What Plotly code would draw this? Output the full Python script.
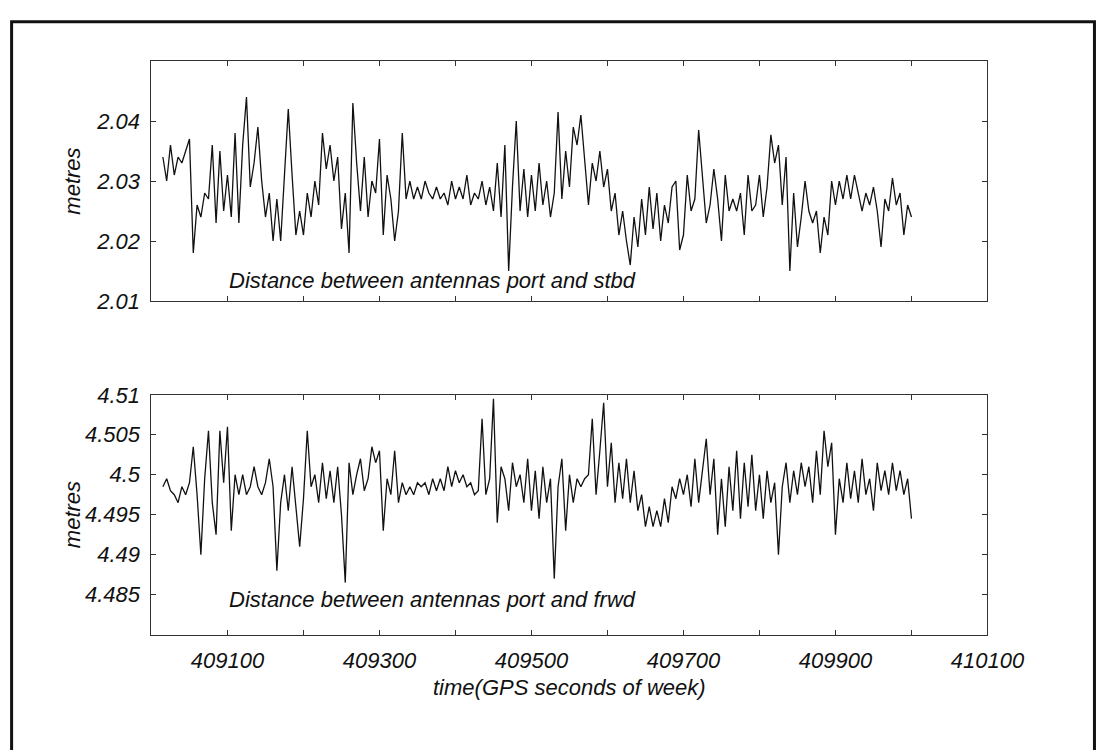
import plotly.graph_objects as go

# time axis (GPS seconds of week), 5 s steps
t_start = 409015
t_step = 5

stbd_values = [
    2.034, 2.030, 2.036, 2.031, 2.034, 2.033, 2.035, 2.037, 2.018, 2.026,
    2.024, 2.028, 2.027, 2.036, 2.023, 2.035, 2.025, 2.031, 2.024, 2.038,
    2.023, 2.036, 2.044, 2.029, 2.033, 2.039, 2.030, 2.024, 2.028, 2.020,
    2.027, 2.020, 2.031, 2.042, 2.031, 2.021, 2.025, 2.021, 2.028, 2.024,
    2.030, 2.026, 2.038, 2.032, 2.036, 2.030, 2.034, 2.022, 2.028, 2.018,
    2.043, 2.033, 2.025, 2.034, 2.024, 2.030, 2.028, 2.037, 2.021, 2.031,
    2.027, 2.020, 2.025, 2.038, 2.027, 2.030, 2.027, 2.029, 2.027, 2.030,
    2.028, 2.027, 2.029, 2.027, 2.028, 2.026, 2.030, 2.027, 2.029, 2.027,
    2.031, 2.026, 2.028, 2.027, 2.030, 2.026, 2.029, 2.025, 2.033, 2.024,
    2.036, 2.015, 2.029, 2.040, 2.025, 2.032, 2.024, 2.031, 2.025, 2.033,
    2.026, 2.030, 2.024, 2.028, 2.0415, 2.027, 2.035, 2.029, 2.039, 2.036,
    2.041, 2.034, 2.026, 2.033, 2.030, 2.035, 2.029, 2.032, 2.025, 2.028,
    2.021, 2.025, 2.020, 2.016, 2.024, 2.019, 2.027, 2.021, 2.029, 2.022,
    2.028, 2.020, 2.026, 2.023, 2.029, 2.030, 2.0185, 2.021, 2.031, 2.025,
    2.027, 2.0385, 2.031, 2.023, 2.026, 2.032, 2.027, 2.020, 2.031, 2.025,
    2.027, 2.025, 2.028, 2.021, 2.031, 2.025, 2.026, 2.031, 2.024, 2.029,
    2.0377, 2.033, 2.036, 2.026, 2.034, 2.015, 2.028, 2.019, 2.024, 2.030,
    2.025, 2.023, 2.025, 2.018, 2.024, 2.021, 2.030, 2.026, 2.030, 2.027,
    2.031, 2.027, 2.031, 2.028, 2.025, 2.028, 2.026, 2.029, 2.025, 2.019,
    2.027, 2.025, 2.0305, 2.026, 2.028, 2.021, 2.026, 2.024,
]

frwd_values = [
    4.4985, 4.4995, 4.498, 4.4975, 4.4965, 4.4985, 4.4975, 4.499, 4.5035, 4.4975,
    4.490, 4.4995, 4.5055, 4.4965, 4.4925, 4.5055, 4.499, 4.506, 4.493, 4.500,
    4.4975, 4.500, 4.4975, 4.4985, 4.501, 4.4985, 4.4975, 4.499, 4.502, 4.4985,
    4.488, 4.4965, 4.500, 4.4955, 4.501, 4.4955, 4.491, 4.497, 4.5055, 4.4985,
    4.500, 4.4965, 4.5015, 4.497, 4.5005, 4.4965, 4.501, 4.495, 4.4865, 4.5015,
    4.4975, 4.500, 4.502, 4.498, 4.4995, 4.5035, 4.5015, 4.503, 4.493, 4.4995,
    4.4975, 4.503, 4.4965, 4.499, 4.4975, 4.4985, 4.4975, 4.499, 4.4985, 4.499,
    4.4975, 4.4995, 4.498, 4.4995, 4.498, 4.501, 4.4985, 4.5005, 4.499, 4.500,
    4.4985, 4.499, 4.4975, 4.498, 4.507, 4.4975, 4.4995, 4.5095, 4.494, 4.501,
    4.4995, 4.4955, 4.5015, 4.4985, 4.500, 4.4965, 4.502, 4.4955, 4.5005, 4.4945,
    4.501, 4.4965, 4.4995, 4.487, 4.4985, 4.502, 4.493, 4.500, 4.4965, 4.4995,
    4.4985, 4.4995, 4.500, 4.507, 4.4975, 4.503, 4.509, 4.4985, 4.504, 4.4965,
    4.5015, 4.497, 4.502, 4.4965, 4.5005, 4.4955, 4.4975, 4.4935, 4.496, 4.4935,
    4.4955, 4.4935, 4.497, 4.494, 4.4985, 4.497, 4.4995, 4.4975, 4.500, 4.496,
    4.502, 4.4965, 4.5005, 4.5045, 4.4975, 4.502, 4.4925, 4.4995, 4.4935, 4.501,
    4.4955, 4.503, 4.4945, 4.5015, 4.496, 4.5025, 4.4955, 4.500, 4.4945, 4.5005,
    4.4965, 4.499, 4.490, 4.4985, 4.5015, 4.4965, 4.5005, 4.4975, 4.5015, 4.4985,
    4.501, 4.4965, 4.503, 4.4975, 4.5055, 4.501, 4.504, 4.4925, 4.4995, 4.4965,
    4.5015, 4.497, 4.5005, 4.4965, 4.502, 4.4975, 4.4995, 4.4955, 4.5015, 4.498,
    4.5005, 4.4975, 4.5015, 4.498, 4.5005, 4.4975, 4.4995, 4.4945,
]

x_tick_vals = [409000, 409100, 409200, 409300, 409400, 409500, 409600,
               409700, 409800, 409900, 410000, 410100]
x_tick_text = ["", "409100", "", "409300", "", "409500", "",
               "409700", "", "409900", "", "410100"]
top_tick_vals = [2.01, 2.02, 2.03, 2.04, 2.05]
top_tick_text = ["2.01", "2.02", "2.03", "2.04", ""]
bot_tick_vals = [4.48, 4.485, 4.49, 4.495, 4.5, 4.505, 4.51]
bot_tick_text = ["", "4.485", "4.49", "4.495", "4.5", "4.505", "4.51"]

t_stbd = [t_start + t_step * i for i in range(len(stbd_values))]
t_frwd = [t_start + t_step * i for i in range(len(frwd_values))]

W, H = 1110, 750
FONT = "Liberation Sans, Arial, sans-serif"
fsz = 22

fig = go.Figure()
fig.add_trace(go.Scatter(x=t_stbd, y=stbd_values, mode="lines",
                         line=dict(color="#111", width=1.3),
                         xaxis="x", yaxis="y", showlegend=False))
fig.add_trace(go.Scatter(x=t_frwd, y=frwd_values, mode="lines",
                         line=dict(color="#111", width=1.3),
                         xaxis="x2", yaxis="y2", showlegend=False))

xdom = [156.7 / W, 1021.5 / W]
ytop = [(H - 299) / H, (H - 50.7) / H]
ybot = [(H - 644) / H, (H - 396) / H]

tickfont = dict(family=FONT, size=fsz, color="#111", style="italic")
axis_common = dict(showline=True, linecolor="#333", linewidth=1, mirror="ticks",
                   ticks="inside", ticklen=5, tickcolor="#333", showgrid=False,
                   zeroline=False, tickfont=tickfont)

fig.update_layout(
    width=W, height=H,
    margin=dict(l=0, r=0, t=0, b=0),
    paper_bgcolor="white", plot_bgcolor="white",
    xaxis=dict(domain=xdom, anchor="y", range=[409000, 410100],
               tickvals=x_tick_vals, ticktext=[""] * len(x_tick_vals),
               **axis_common),
    yaxis=dict(domain=ytop, anchor="x", range=[2.01, 2.05],
               tickvals=top_tick_vals, ticktext=top_tick_text,
               ticklabelstandoff=6, **axis_common),
    xaxis2=dict(domain=xdom, anchor="y2", range=[409000, 410100],
                tickvals=x_tick_vals, ticktext=x_tick_text,
                ticklabelstandoff=6, **axis_common),
    yaxis2=dict(domain=ybot, anchor="x2", range=[4.48, 4.51],
                tickvals=bot_tick_vals, ticktext=bot_tick_text,
                ticklabelstandoff=6, **axis_common),
)

afont = dict(family=FONT, size=fsz, color="#111", style="italic")
fig.add_annotation(text="metres", textangle=-90, xref="paper", yref="paper",
                   x=75 / W, y=(H - 175) / H, xanchor="center", yanchor="middle",
                   showarrow=False, font=afont)
fig.add_annotation(text="metres", textangle=-90, xref="paper", yref="paper",
                   x=75 / W, y=(H - 520) / H, xanchor="center", yanchor="middle",
                   showarrow=False, font=afont)
fig.add_annotation(text="time(GPS seconds of week)", xref="paper", yref="paper",
                   x=(156.7 + 1021.5) / 2 / W, y=(H - 699) / H,
                   xanchor="center", yanchor="middle",
                   showarrow=False, font=afont)
fig.add_annotation(text="Distance between antennas port and stbd", xref="x", yref="y",
                   x=409100, y=2.0134, xanchor="left", yanchor="middle",
                   showarrow=False, font=afont)
fig.add_annotation(text="Distance between antennas port and frwd", xref="x2", yref="y2",
                   x=409100, y=4.4844, xanchor="left", yanchor="middle",
                   showarrow=False, font=afont)

# outer frame of the scanned figure
fig.add_shape(type="rect", xref="paper", yref="paper",
              x0=12 / W, x1=1.02, y0=-0.02, y1=(H - 10) / H,
              line=dict(color="#111", width=3))

fig.write_html("out.html", config={"displayModeBar": False},
               post_script="document.body.style.margin='0';")
